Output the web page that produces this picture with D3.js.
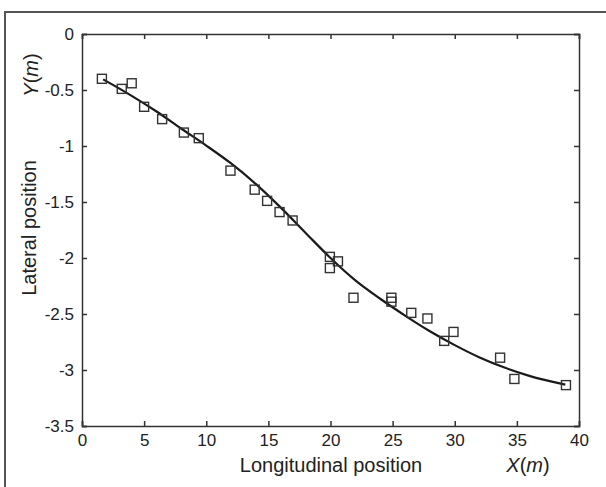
<!DOCTYPE html>
<html>
<head>
<meta charset="utf-8">
<script src="https://cdn.jsdelivr.net/npm/d3@7"></script>
<style>
  body { margin: 0; background: #fff; }
  svg { display: block; }
  text { font-family: "Liberation Sans", Arial, sans-serif; fill: #222; }
</style>
</head>
<body>
<script>
// Set Dimensions

const width = 606;
const height = 487;
const margin = {left: 82, top: 34, right: 27, bottom: 61};
const xMax = width - margin.left - margin.right;
const yMax = height - margin.top - margin.bottom;

// Measured points (longitudinal X, lateral Y)

const measX = [1.6, 3.2, 4.0, 5.0, 6.45, 8.2, 9.4, 11.95, 13.9, 14.9, 15.9, 16.95,
  19.95, 20.6, 19.95, 21.85, 24.9, 24.9, 26.5, 27.8, 29.9, 29.15, 33.65, 34.8, 38.95];
const measY = [-0.40, -0.49, -0.44, -0.65, -0.76, -0.88, -0.93, -1.22, -1.39, -1.49, -1.59, -1.665,
  -1.99, -2.03, -2.09, -2.355, -2.355, -2.39, -2.49, -2.54, -2.66, -2.74, -2.89, -3.08, -3.135];

// Fitted trajectory

const fitX = [1.7, 4, 6, 8, 10, 12, 14, 16, 18, 20, 22, 24, 26, 28, 30, 32, 34, 36, 38.9];
const fitY = [-0.405, -0.552, -0.692, -0.846, -0.996, -1.156, -1.340, -1.550, -1.776, -2.000,
  -2.200, -2.364, -2.514, -2.654, -2.778, -2.888, -2.978, -3.052, -3.130];

// Ticks

const xTicks = [0, 5, 10, 15, 20, 25, 30, 35, 40];
const yTicks = [0, -0.5, -1, -1.5, -2, -2.5, -3, -3.5];

const points = measX.map((x, i) => ({x: x, y: measY[i]}));
const fit = fitX.map((x, i) => ({x: x, y: fitY[i]}));

const svg = d3.select("body")
  .append("svg")
  .attr("width", width)
  .attr("height", height);

// outer frame (runs off the right and bottom edges)
svg.append("rect")
  .attr("x", 5)
  .attr("y", 12)
  .attr("width", 700)
  .attr("height", 600)
  .attr("fill", "none")
  .attr("stroke", "#555")
  .attr("stroke-width", 2);

const g = svg.append("g")
  .attr("transform", "translate(" + margin.left + "," + margin.top + ")");

const x = d3.scaleLinear().domain([0, 40]).range([0, xMax]);
const y = d3.scaleLinear().domain([-3.5, 0]).range([yMax, 0]);

// bottom
g.append("g")
  .attr("class", "axis")
  .attr("transform", "translate(0," + yMax + ")")
  .call(d3.axisBottom(x).tickValues(xTicks).tickSize(-5).tickPadding(8).tickFormat(d => d));

// top
g.append("g")
  .attr("class", "axis")
  .call(d3.axisTop(x).tickValues(xTicks).tickSize(-5).tickFormat(""));

// left
g.append("g")
  .attr("class", "axis")
  .call(d3.axisLeft(y).tickValues(yTicks).tickSize(-5).tickPadding(8).tickFormat(d => d));

// right
g.append("g")
  .attr("class", "axis")
  .attr("transform", "translate(" + xMax + ",0)")
  .call(d3.axisRight(y).tickValues(yTicks).tickSize(-5).tickFormat(""));

g.selectAll(".axis path, .axis line")
  .attr("stroke", "#333")
  .attr("stroke-width", 1.5);
g.selectAll(".axis text")
  .attr("font-size", 17)
  .attr("fill", "#222")
  .attr("font-family", "Liberation Sans, Arial, sans-serif");

// fitted curve
g.append("path")
  .datum(fit)
  .attr("fill", "none")
  .attr("stroke", "#1a1a1a")
  .attr("stroke-width", 2.2)
  .attr("d", d3.line()
    .x(d => x(d.x))
    .y(d => y(d.y))
    .curve(d3.curveMonotoneX));

// square markers
const s = 9;
g.selectAll("rect.pt")
  .data(points)
  .enter()
  .append("rect")
  .attr("class", "pt")
  .attr("x", d => x(d.x) - s / 2)
  .attr("y", d => y(d.y) - s / 2)
  .attr("width", s)
  .attr("height", s)
  .attr("fill", "none")
  .attr("stroke", "#333")
  .attr("stroke-width", 1.4);

// axis labels
svg.append("text")
  .attr("x", 331)
  .attr("y", 472)
  .attr("text-anchor", "middle")
  .attr("font-size", 20)
  .text("Longitudinal position");

const xl = svg.append("text")
  .attr("x", 528)
  .attr("y", 472)
  .attr("text-anchor", "middle")
  .attr("font-size", 20);
xl.append("tspan").attr("font-style", "italic").text("X");
xl.append("tspan").text("(");
xl.append("tspan").attr("font-style", "italic").text("m");
xl.append("tspan").text(")");

svg.append("text")
  .attr("transform", "translate(36,228) rotate(-90)")
  .attr("text-anchor", "middle")
  .attr("font-size", 20)
  .text("Lateral position");

const yl = svg.append("text")
  .attr("transform", "translate(38,75) rotate(-90)")
  .attr("text-anchor", "middle")
  .attr("font-size", 20);
yl.append("tspan").attr("font-style", "italic").text("Y");
yl.append("tspan").text("(");
yl.append("tspan").attr("font-style", "italic").text("m");
yl.append("tspan").text(")");
</script>
</body>
</html>
